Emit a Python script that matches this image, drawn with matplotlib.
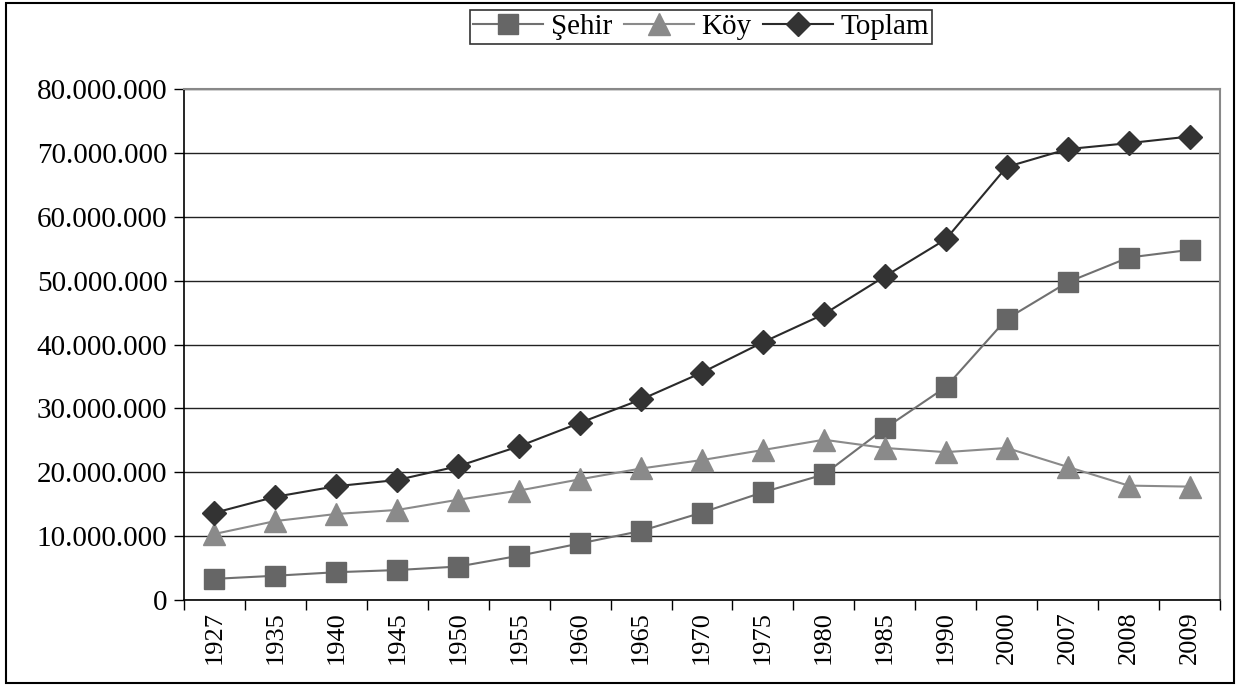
import matplotlib
matplotlib.use("Agg")
import matplotlib.pyplot as plt
from matplotlib.ticker import FuncFormatter, MultipleLocator, FixedLocator
from matplotlib.patches import Rectangle

years = ["1927", "1935", "1940", "1945", "1950", "1955", "1960", "1965", "1970",
         "1975", "1980", "1985", "1990", "2000", "2007", "2008", "2009"]
sehir = [3.31, 3.80, 4.35, 4.69, 5.24, 6.93, 8.86, 10.81, 13.69, 16.87, 19.65,
         26.87, 33.33, 44.01, 49.75, 53.61, 54.81]
koy = [10.34, 12.36, 13.47, 14.10, 15.70, 17.14, 18.90, 20.59, 21.91, 23.48, 25.09,
       23.80, 23.15, 23.80, 20.84, 17.91, 17.75]
toplam = [13.65, 16.16, 17.82, 18.79, 20.95, 24.07, 27.75, 31.39, 35.61, 40.35, 44.74,
          50.66, 56.47, 67.80, 70.59, 71.52, 72.56]

plt.rcParams['font.family'] = ['Liberation Serif', 'DejaVu Serif']

fig = plt.figure(figsize=(12.39, 6.87), dpi=100)
ax = fig.add_axes([184/1239, 1-600/687, (1220-184)/1239, (600-89)/687])

x = list(range(len(years)))
M = 1e6
ax.plot(x, [v*M for v in sehir], color='#707070', lw=1.5, marker='s', ms=14,
        mfc='#666666', mec='#666666', label='Şehir', zorder=3)
ax.plot(x, [v*M for v in koy], color='#8a8a8a', lw=1.5, marker='^', ms=16,
        mfc='#8a8a8a', mec='#8a8a8a', label='Köy', zorder=3)
ax.plot(x, [v*M for v in toplam], color='#2a2a2a', lw=1.5, marker='D', ms=12,
        mfc='#333333', mec='#333333', label='Toplam', zorder=3)

ax.set_xlim(-0.5, len(years)-0.5)
ax.set_ylim(0, 80e6)
ax.yaxis.set_major_locator(MultipleLocator(10e6))
ax.yaxis.set_major_formatter(FuncFormatter(lambda v, p: f"{int(round(v)):,}".replace(",", ".")))
ax.grid(axis='y', color='#222222', lw=1.0)
ax.set_axisbelow(True)

ax.set_xticks(x)
ax.set_xticklabels(years, rotation=90, fontsize=19)
ax.xaxis.set_minor_locator(FixedLocator([i-0.5 for i in range(len(years)+1)]))
ax.tick_params(axis='x', which='major', length=0, pad=8)
ax.tick_params(axis='x', which='minor', length=7, width=1, color='black')
ax.tick_params(axis='y', length=7, width=1, pad=5, labelsize=21)

for s in ['top', 'right']:
    ax.spines[s].set_color('#888888')
    ax.spines[s].set_linewidth(1.5)
for s in ['left', 'bottom']:
    ax.spines[s].set_color('black')
    ax.spines[s].set_linewidth(1.2)

leg = fig.legend(loc='center', bbox_to_anchor=(701/1239, 1-27/687), ncol=3,
                 fontsize=21, frameon=True, fancybox=False, edgecolor='black',
                 handlelength=2.4, handletextpad=0.25, columnspacing=0.4,
                 borderpad=0.12, borderaxespad=0)
leg.get_frame().set_linewidth(1.2)

fig.patches.append(Rectangle((5.5/1239, 1-683/687), (1234-5.5)/1239, (683-3)/687,
                             transform=fig.transFigure, fill=False, edgecolor='black',
                             lw=1.5))

fig.savefig('out.png', dpi=100, facecolor='white')
